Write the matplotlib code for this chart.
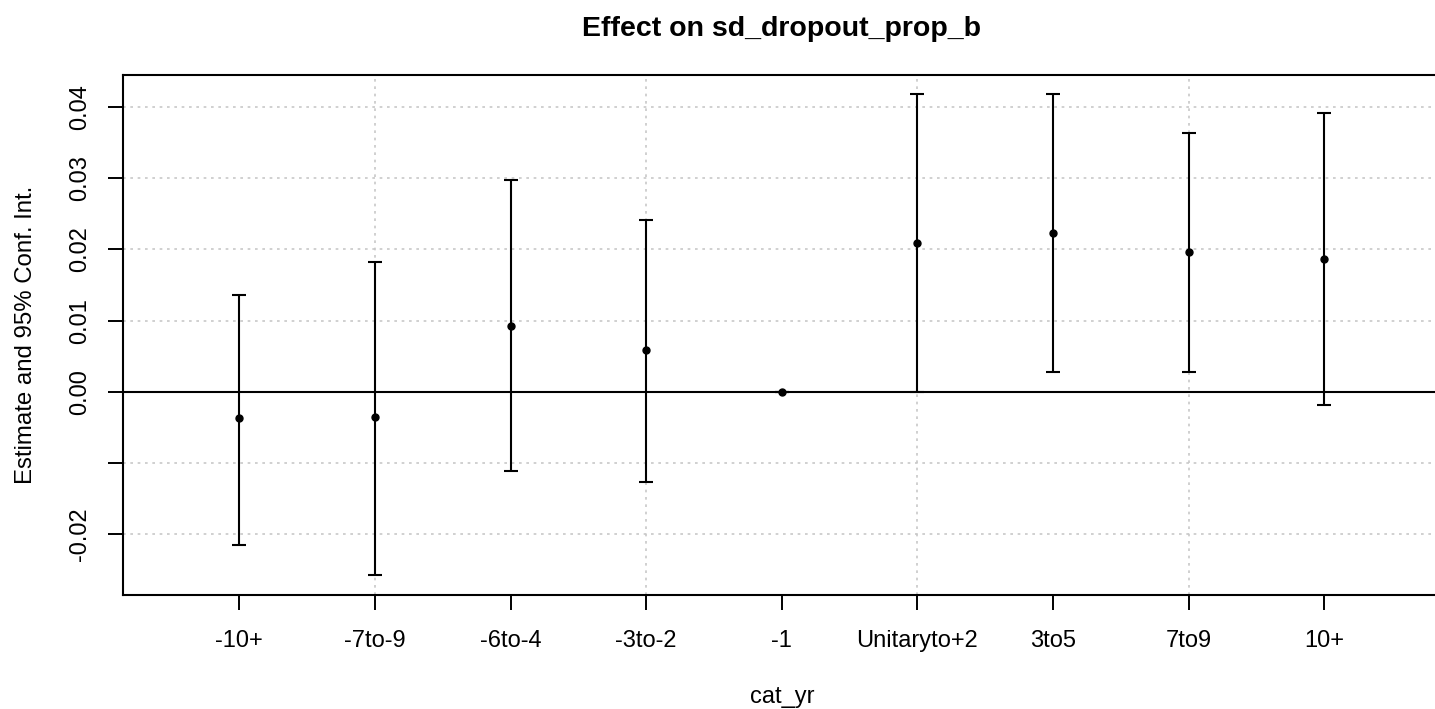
import matplotlib
matplotlib.use("Agg")
import matplotlib.pyplot as plt
import numpy as np

# coefficient estimates and 95% intervals by event-time bin
categories = ["-10+", "-7to-9", "-6to-4", "-3to-2", "-1",
              "Unitaryto+2", "3to5", "7to9", "10+"]
estimate = [-0.0037, -0.0035, 0.0093, 0.0059, 0.0, 0.0209, 0.0223, 0.0196, 0.0187]
ci_low = [-0.0216, -0.0258, -0.0111, -0.0127, 0.0, 0.0, 0.0028, 0.0028, -0.0019]
ci_high = [0.0136, 0.0183, 0.0298, 0.0241, 0.0, 0.0418, 0.0419, 0.0364, 0.0392]

y_ticks = [-0.02, -0.01, 0.0, 0.01, 0.02, 0.03, 0.04]
y_tick_labels = ["-0.02", "", "0.00", "0.01", "0.02", "0.03", "0.04"]
grid_x = [2, 4, 6, 8]

plt.rcParams["font.family"] = ["Liberation Sans", "DejaVu Sans"]

W, H = 1435, 709
fig = plt.figure(figsize=(W / 100, H / 100), dpi=100)
# plot region in pixels; the right edge runs just past the figure border
left, right, top, bottom = 123, 1440.7, 75, 595
ax = fig.add_axes([left / W, 1 - bottom / H, (right - left) / W, (bottom - top) / H])

x = np.arange(1, len(categories) + 1)
est = np.array(estimate)
lo = np.array(ci_low)
hi = np.array(ci_high)

ax.set_xlim(0.143, 9.857)
ax.set_ylim(-0.02859, 0.04454)

# dotted light grey grid like R's grid()
grid_style = dict(color="#C8C8C8", linewidth=1.2, dashes=(1.6, 2.8), zorder=0)
for yv in y_ticks:
    ax.axhline(yv, **grid_style)
for xv in grid_x:
    ax.axvline(xv, **grid_style)

ax.axhline(0, color="black", linewidth=1.5, zorder=1)

ax.errorbar(x, est, yerr=[est - lo, hi - est], fmt="o", color="black",
            markersize=5, elinewidth=1.5, capsize=5, capthick=1.5, zorder=3)

ax.set_xticks(x)
ax.set_xticklabels(categories, fontsize=17)
ax.set_yticks(y_ticks)
ax.set_yticklabels(y_tick_labels, fontsize=17, rotation=90, va="center")

ax.tick_params(axis="both", direction="out", length=11, width=1.4, color="black")
ax.tick_params(axis="x", pad=14)
ax.tick_params(axis="y", pad=12)

for side in ["top", "bottom", "left", "right"]:
    ax.spines[side].set_linewidth(1.5)
    ax.spines[side].set_color("black")

ax.set_title("Effect on sd_dropout_prop_b", fontsize=20.5, fontweight="bold", pad=28)
ax.set_xlabel("cat_yr", fontsize=17, labelpad=25)
ax.set_ylabel("Estimate and 95% Conf. Int.", fontsize=17.3, labelpad=23)

fig.savefig("out.png", dpi=100)
